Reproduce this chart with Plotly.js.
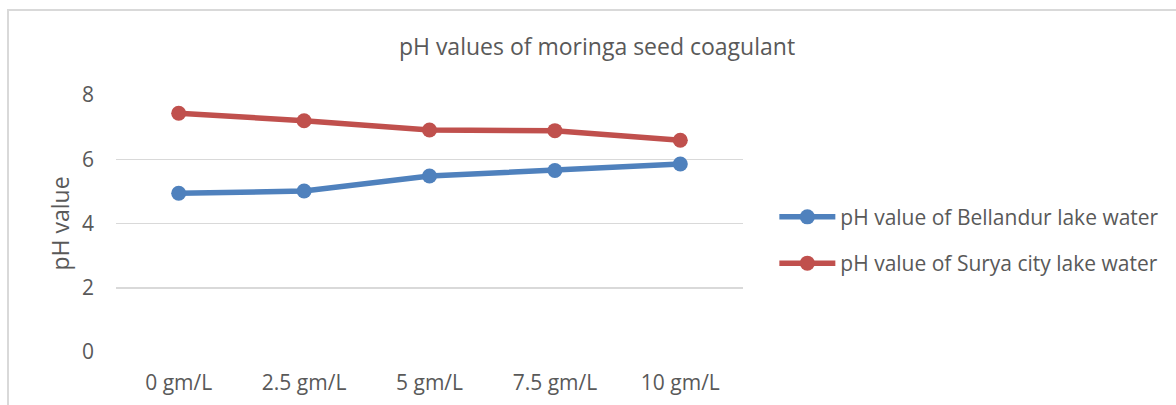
<!DOCTYPE html>
<html>
<head>
<meta charset="utf-8">
<script src="https://cdn.plot.ly/plotly-3.0.1.min.js"></script>
<style>
  html, body { margin: 0; padding: 0; background: #fff; }
  #wrap { position: relative; width: 1176px; height: 405px; overflow: hidden; }
  #chart { position: absolute; left: 0; top: 0; width: 1176px; height: 405px; }
  #frame { position: absolute; left: 7px; top: 9px; width: 1200px; height: 420px;
           border: 2px solid #d9d9d9; box-sizing: border-box; pointer-events: none; }
</style>
</head>
<body>
<div id="wrap">
  <div id="chart"></div>
  <div id="frame"></div>
</div>
<script>
const categories = ["0 gm/L", "2.5 gm/L", "5 gm/L", "7.5 gm/L", "10 gm/L"];
const bellandur = [4.94, 5.01, 5.48, 5.65, 5.85];
const suryaCity = [7.43, 7.20, 6.91, 6.89, 6.59];
const seriesNames = ["pH value of Bellandur lake water", "pH value of Surya city lake water"];
const yTicks = [0, 2, 4, 6, 8];

const FONT = "Open Sans, sans-serif";
const TXT = "#595959";

const traces = [
  {
    x: categories, y: bellandur, name: seriesNames[0], type: "scatter", mode: "lines+markers",
    legendgroup: "a",
    line: { color: "#4F81BD", width: 5.5 },
    marker: { color: "#4F81BD", size: 15 }
  },
  {
    x: categories, y: suryaCity, name: seriesNames[1], type: "scatter", mode: "lines+markers",
    legendgroup: "b",
    line: { color: "#C0504D", width: 5.5 },
    marker: { color: "#C0504D", size: 15 }
  }
];

const layout = {
  width: 1176, height: 405,
  margin: { l: 116, r: 431, t: 95, b: 53 },
  paper_bgcolor: "#ffffff", plot_bgcolor: "#ffffff",
  font: { family: FONT, color: TXT, size: 21 },
  title: {
    text: "pH values of moringa seed coagulant",
    font: { family: FONT, size: 23, color: TXT },
    x: 597 / 1176, xanchor: "center", xref: "container",
    y: 1 - 47 / 405, yanchor: "middle", yref: "container"
  },
  xaxis: {
    type: "category", range: [-0.5, categories.length - 0.5],
    showgrid: false, showline: false, zeroline: false,
    ticks: "", ticklabelstandoff: 16,
    tickfont: { family: FONT, size: 21, color: TXT }
  },
  yaxis: {
    range: [0, 8], tickvals: yTicks, ticktext: yTicks.map(String),
    showgrid: true, gridcolor: "#d9d9d9", gridwidth: 1.5,
    zeroline: false, showline: false, ticks: "",
    ticklabelstandoff: 21,
    tickfont: { family: FONT, size: 21, color: TXT },
    title: { text: "pH value", font: { family: FONT, size: 23, color: TXT }, standoff: 5 }
  },
  showlegend: true,
  legend: {
    x: 1.05, xanchor: "left", y: 0.435, yanchor: "middle",
    itemwidth: 56, tracegroupgap: 16,
    font: { family: FONT, size: 21, color: TXT },
    bgcolor: "rgba(0,0,0,0)"
  }
};

Plotly.newPlot("chart", traces, layout, { displayModeBar: false, staticPlot: true });
</script>
</body>
</html>
